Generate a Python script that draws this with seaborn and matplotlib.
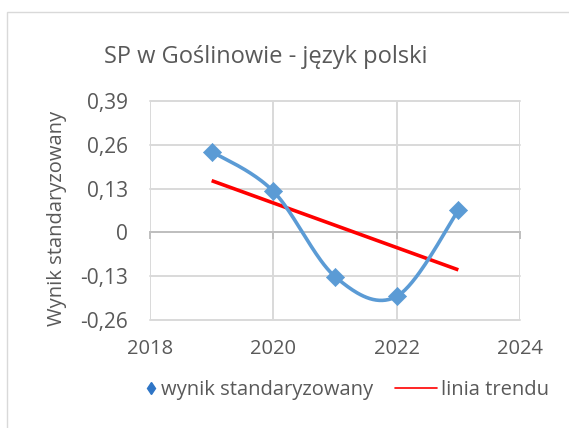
import numpy as np
import pandas as pd
import matplotlib
matplotlib.use("Agg")
import matplotlib.pyplot as plt
from matplotlib.lines import Line2D
from matplotlib.patches import Rectangle
import matplotlib.ticker as mticker
import seaborn as sns

# ---- data ----
years = [2019, 2020, 2021, 2022, 2023]
values = [0.240, 0.122, -0.131, -0.190, 0.065]
y_ticks = [-0.26, -0.13, 0.0, 0.13, 0.26, 0.39]
x_ticks = [2018, 2020, 2022, 2024]
title = "SP w Goślinowie - język polski"
ylabel = "Wynik standaryzowany"
series_label = "wynik standaryzowany"
trend_label = "linia trendu"

sns.set_theme(style="white")
plt.rcParams['font.family'] = ['Open Sans', 'DejaVu Sans']

TXT = '#595959'
BLUE = '#5B9BD5'
GRID = '#D9D9D9'

# smoothed curve (Catmull-Rom, like Excel's smoothed line)
def catmull(xs, ys, n=40):
    P = np.column_stack([xs, ys]).astype(float)
    P = np.vstack([P[0], P, P[-1]])
    out = []
    for i in range(1, len(P) - 2):
        p0, p1, p2, p3 = P[i - 1], P[i], P[i + 1], P[i + 2]
        m1 = (p2 - p0) / 2
        m2 = (p3 - p1) / 2
        t = np.linspace(0, 1, n)[:, None]
        h00 = 2 * t**3 - 3 * t**2 + 1
        h10 = t**3 - 2 * t**2 + t
        h01 = -2 * t**3 + 3 * t**2
        h11 = t**3 - t**2
        out.append(h00 * p1 + h10 * m1 + h01 * p2 + h11 * m2)
    return np.vstack(out)

curve = catmull(years, values)
df_curve = pd.DataFrame({'x': curve[:, 0], 'y': curve[:, 1]})
df_pts = pd.DataFrame({'year': years, 'value': values})

slope, intercept = np.polyfit(years, values, 1)
trend_x = [years[0], years[-1]]
df_trend = pd.DataFrame({'x': trend_x, 'y': [slope * v + intercept for v in trend_x]})

W, H = 569, 428
fig = plt.figure(figsize=(W / 100, H / 100), dpi=100)
fig.patch.set_facecolor('white')
fig.patches.append(Rectangle((7 / W, 0 - 0.01), 1.1, 1 - 12 / H + 0.01, transform=fig.transFigure,
                             fill=False, edgecolor='#D9D9D9', lw=1.0))

ax = fig.add_axes([150 / W, 1 - 320 / H, 370 / W, 219 / H])
ax.set_facecolor('white')

sns.lineplot(data=df_trend, x='x', y='y', ax=ax, color='#FF0000', lw=2.6, zorder=3,
             solid_capstyle='butt', legend=False)
sns.lineplot(data=df_curve, x='x', y='y', ax=ax, color=BLUE, lw=2.6, zorder=4,
             sort=False, estimator=None, legend=False)
sns.scatterplot(data=df_pts, x='year', y='value', ax=ax, marker='D', s=85, color=BLUE,
                edgecolor=BLUE, linewidth=0.5, zorder=5, legend=False)

ax.set_xlim(2018, 2024)
ax.set_ylim(-0.26, 0.39)
ax.xaxis.set_major_locator(mticker.FixedLocator(x_ticks))
ax.yaxis.set_major_locator(mticker.FixedLocator(y_ticks))

def yfmt(v, pos):
    if abs(v) < 1e-9:
        return '0'
    return ('%.2f' % v).replace('.', ',')
ax.yaxis.set_major_formatter(mticker.FuncFormatter(yfmt))

ax.grid(True, color=GRID, lw=1.4)
for g in ax.get_xgridlines() + ax.get_ygridlines():
    g.set_clip_on(False)
for s in ['left', 'right', 'top']:
    ax.spines[s].set_visible(False)
ax.spines['bottom'].set_position(('data', 0))
ax.spines['bottom'].set_color('#BFBFBF')
ax.spines['bottom'].set_linewidth(1.4)
ax.spines['bottom'].set_zorder(2)
ax.tick_params(axis='x', direction='out', length=5, width=1.4, color='#BFBFBF',
               labelbottom=False, bottom=True)
ax.tick_params(axis='y', length=0, pad=16, labelsize=15, labelcolor=TXT)

sec = ax.secondary_xaxis(0.0)
sec.xaxis.set_major_locator(mticker.FixedLocator(x_ticks))
sec.xaxis.set_major_formatter(mticker.FuncFormatter(lambda v, p: '%d' % v))
sec.tick_params(length=0, pad=14, labelsize=14.5, labelcolor=TXT)
sec.spines['bottom'].set_visible(False)

ax.set_xlabel('')
ax.set_ylabel('')
fig.text(57 / W, 1 - 218 / H, ylabel, rotation=90, ha='center', va='center',
         fontsize=14.5, color=TXT)
fig.text(266 / W, 1 - 57 / H, title, ha='center', va='center', fontsize=17, color=TXT)

fig.legend([Line2D([], [], marker='d', color='#2E75C6', ls='none', markersize=6.5)],
           [series_label], loc='center left',
           bbox_to_anchor=(145 / W, 1 - 390 / H), frameon=False, fontsize=14.5,
           labelcolor=TXT, handlelength=0.6, handletextpad=0.2,
           borderpad=0, borderaxespad=0)
fig.legend([Line2D([], [], color='#FF0000', lw=1.2)], [trend_label], loc='center left',
           bbox_to_anchor=(395 / W, 1 - 390 / H), frameon=False, fontsize=14.5,
           labelcolor=TXT, handlelength=2.1, handletextpad=0.2,
           borderpad=0, borderaxespad=0)

fig.savefig('out.png', dpi=100, facecolor='white')
